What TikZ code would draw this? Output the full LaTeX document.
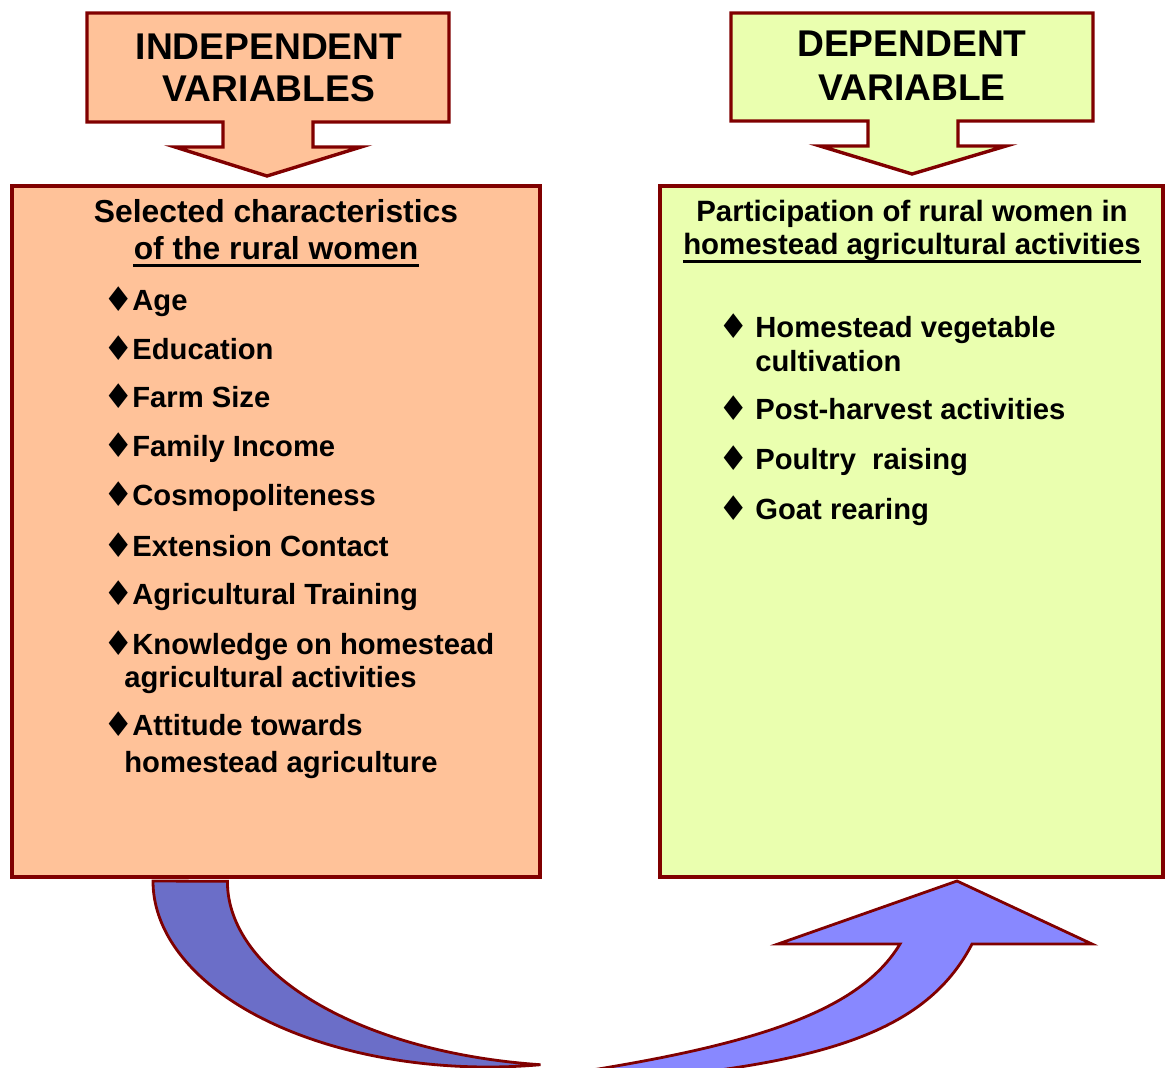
\documentclass[tikz,border=0pt]{standalone}
\usepackage{fontspec}
\setmainfont{Liberation Sans}
\newfontfamily\diafont{DejaVu Sans}
\definecolor{redline}{HTML}{800000}
\definecolor{peach}{HTML}{FFC299}
\definecolor{palelime}{HTML}{EAFFAF}
\definecolor{backblue}{HTML}{6B6EC8}
\definecolor{frontblue}{HTML}{8888FF}

\begin{document}
\begin{tikzpicture}[x=0.5pt,y=-0.5pt,
  border/.style={draw=redline,line width=1.7pt},
  band/.style={draw=redline,line width=1.4pt},
  underl/.style={line width=1.3pt},
  title/.style={anchor=base,inner sep=0pt,font=\fontsize{18.6}{21}\selectfont\bfseries},
  head/.style={anchor=base,inner sep=0pt,font=\fontsize{15.9}{18}\selectfont\bfseries},
  rhead/.style={anchor=base,inner sep=0pt,font=\fontsize{14.7}{17}\selectfont\bfseries},
  item/.style={anchor=base west,inner sep=0pt,font=\fontsize{14.6}{17}\selectfont\bfseries},
  dia/.style={anchor=base west,inner sep=0pt,font=\fontsize{17}{17}\selectfont\diafont}]

\useasboundingbox (0,0) rectangle (1165,1068);

\draw[border,fill=peach] (87,13) -- (449,13) -- (449,122) -- (313,122) -- (313,147) -- (361,147)
  -- (267,176) -- (175,147) -- (223,147) -- (223,122) -- (87,122) -- cycle;
\draw[border,fill=palelime] (731,13) -- (1093,13) -- (1093,121) -- (958,121) -- (958,146) -- (1006,146)
  -- (912,174) -- (820,146) -- (868,146) -- (868,121) -- (731,121) -- cycle;

\draw[border,fill=peach] (12,186) rectangle (540,877);
\draw[border,fill=palelime] (660,186) rectangle (1163,877);

\begin{scope}
\clip (0,0) rectangle (1165,1068);
\draw[band,fill=backblue] (153,881) arc[start angle=180,end angle=81,x radius=335,y radius=186]
  arc[start angle=97.5,end angle=180,x radius=360,y radius=185] -- cycle;
\draw[band,fill=frontblue] (900,944) -- (778,944) -- (957,881) -- (1092,944) -- (972,944)
  .. controls (930,1025) and (840,1060) .. (650,1078) -- (560,1100) -- (560,1075)
  .. controls (760,1045) and (860,1010) .. (900,944) -- cycle;
\end{scope}

\node[title] (ind1) at (269,60) {INDEPENDENT};
\node[title] (ind2) at (269,102) {VARIABLES};
\node[title] (dep1) at (912,57) {DEPENDENT};
\node[title] (dep2) at (912,101) {VARIABLE};

\node[head] (sel1) at (276,223) {Selected characteristics};
\node[head] (sel2) at (276,260) {of the rural women};
\draw[underl] ([yshift=-2.8pt]sel2.base west) -- ([yshift=-2.8pt]sel2.base east);
\node[rhead] (par1) at (912,222) {Participation of rural women in};
\node[rhead] (par2) at (912,255) {homestead agricultural activities};
\draw[underl] ([yshift=-3.2pt]par2.base west) -- ([yshift=-3.2pt]par2.base east);

\node[dia] (d1) at (103,312) {♦};
\node[item] (age) at (132,311) {Age};
\node[dia] (d2) at (103,361) {♦};
\node[item] (edu) at (132,360) {Education};
\node[dia] (d3) at (103,409) {♦};
\node[item] (farm) at (132,408) {Farm Size};
\node[dia] (d4) at (103,458) {♦};
\node[item] (inc) at (132,457) {Family Income};
\node[dia] (d5) at (103,507) {♦};
\node[item] (cos) at (132,506) {Cosmopoliteness};
\node[dia] (d6) at (103,557) {♦};
\node[item] (ext) at (132,556) {Extension Contact};
\node[dia] (d7) at (103,605) {♦};
\node[item] (trn) at (132,604) {Agricultural Training};
\node[dia] (d8) at (103,655) {♦};
\node[item] (know1) at (132,654) {Knowledge on homestead};
\node[item] (know2) at (124,687) {agricultural activities};
\node[dia] (d9) at (103,736) {♦};
\node[item] (att1) at (132,735) {Attitude towards};
\node[item] (att2) at (124,772) {homestead agriculture};

\node[dia] (r1) at (718,339) {♦};
\node[item] (veg1) at (755,338) {Homestead vegetable};
\node[item] (veg2) at (755,372) {cultivation};
\node[dia] (r2) at (718,421) {♦};
\node[item] (post) at (755,420) {Post-harvest activities};
\node[dia] (r3) at (718,471) {♦};
\node[item] (poul) at (755,470) {Poultry\ \ raising};
\node[dia] (r4) at (718,520) {♦};
\node[item] (goat) at (755,519) {Goat rearing};
\end{tikzpicture}
\end{document}
